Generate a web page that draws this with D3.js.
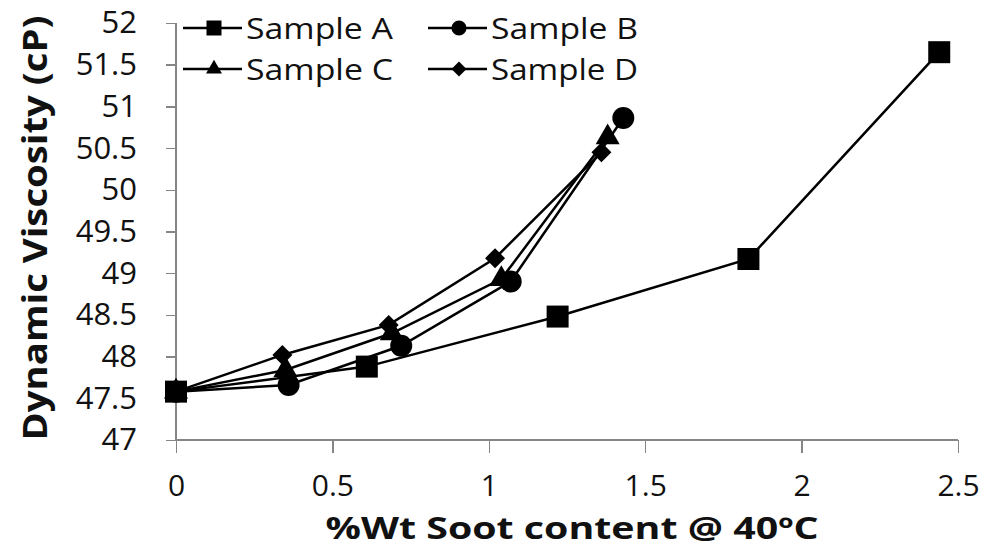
<!DOCTYPE html>
<meta charset="utf-8">
<style>
body { margin: 0; background: #fff; }
text { font-family: "Open Sans", sans-serif; fill: #111; }
.axis path, .axis line { stroke: #868686; stroke-width: 1.5; shape-rendering: crispEdges; }
.axis text { font-size: 31px; }
.x-axis text { font-size: 30px; }
.title { font-size: 34px; font-weight: bold; }
.x-title { font-size: 30px; }
.legend text { font-size: 30px; }
</style>
<svg width="987" height="548"></svg>
<script src="https://cdn.jsdelivr.net/npm/d3@7"></script>
<script>

// values
var seriesNames = ["Sample A", "Sample B", "Sample C", "Sample D"];
var soot = [
  [0, 0.61, 1.22, 1.83, 2.44],
  [0, 0.36, 0.72, 1.07, 1.43],
  [0, 0.35, 0.69, 1.04, 1.38],
  [0, 0.34, 0.68, 1.02, 1.36]
];
var viscosity = [
  [47.58, 47.88, 48.48, 49.17, 51.65],
  [47.58, 47.66, 48.13, 48.90, 50.86],
  [47.58, 47.84, 48.28, 48.93, 50.63],
  [47.58, 48.02, 48.38, 49.18, 50.45]
];
var xTicks = [0, 0.5, 1, 1.5, 2, 2.5];
var yTicks = [47, 47.5, 48, 48.5, 49, 49.5, 50, 50.5, 51, 51.5, 52];

var svg = d3.select("svg");

var x = d3.scaleLinear().domain([0, 2.5]).range([176, 958]);
var y = d3.scaleLinear().domain([47, 52]).range([440, 23]);

// marker shapes; the diamond is a square turned 45 degrees, like Excel's
var symbolTypes = [d3.symbolSquare, d3.symbolCircle, d3.symbolTriangle, d3.symbolSquare];
var rotations = [0, 0, 0, 45];
var symbolSizes = [484, 380, 250, 200];
var legendSizes = [225, 180, 110, 112];

svg.append("g")
    .attr("class", "axis x-axis")
    .attr("transform", "translate(0," + y(47) + ")")
    .call(d3.axisBottom(x).tickValues(xTicks).tickFormat(d3.format("")).tickSize(13).tickPadding(22))
    .call(function(g) { g.select(".domain").attr("d", "M" + x(0) + ",0H" + x(2.5)); });

svg.append("g")
    .attr("class", "axis")
    .attr("transform", "translate(" + x(0) + ",0)")
    .call(d3.axisLeft(y).tickValues(yTicks).tickFormat(d3.format("")).tickSize(10).tickPadding(29))
    .call(function(g) { g.select(".domain").attr("d", "M0," + y(52) + "V" + y(47)); });

svg.selectAll(".axis .tick text").attr("fill", "#1a1a1a");

var line = d3.line()
    .x(function(d) { return x(d[0]); })
    .y(function(d) { return y(d[1]); });

seriesNames.forEach(function(name, i) {
  var pts = d3.zip(soot[i], viscosity[i]);
  var g = svg.append("g");
  g.append("path")
      .attr("d", line(pts))
      .attr("fill", "none")
      .attr("stroke", "#000")
      .attr("stroke-width", 2.5);
  g.selectAll("path.pt").data(pts).enter().append("path")
      .attr("class", "pt")
      .attr("transform", function(d) {
        return "translate(" + x(d[0]) + "," + y(d[1]) + ") rotate(" + rotations[i] + ")";
      })
      .attr("d", d3.symbol().type(symbolTypes[i]).size(symbolSizes[i]))
      .attr("fill", "#000");
});

// legend, two columns
var legend = svg.append("g").attr("class", "legend");
seriesNames.forEach(function(name, i) {
  var lx = 183 + (i % 2) * 245;
  var ly = 28 + Math.floor(i / 2) * 41;
  var g = legend.append("g").attr("transform", "translate(" + lx + "," + ly + ")");
  g.append("line").attr("x1", 0).attr("x2", 59).attr("stroke", "#000").attr("stroke-width", 2.5);
  g.append("path")
      .attr("transform", "translate(31,0) rotate(" + rotations[i] + ")")
      .attr("d", d3.symbol().type(symbolTypes[i]).size(legendSizes[i]));
  g.append("text")
      .attr("x", 63)
      .attr("dy", "0.36em")
      .attr("textLength", 147)
      .attr("lengthAdjust", "spacingAndGlyphs")
      .text(name);
});

svg.append("text")
    .attr("class", "title")
    .attr("text-anchor", "middle")
    .attr("transform", "translate(47,228) rotate(-90)")
    .attr("textLength", 425)
    .attr("lengthAdjust", "spacingAndGlyphs")
    .text("Dynamic Viscosity (cP)");

svg.append("text")
    .attr("class", "title x-title")
    .attr("text-anchor", "middle")
    .attr("x", 572)
    .attr("y", 539)
    .attr("textLength", 493)
    .attr("lengthAdjust", "spacingAndGlyphs")
    .text("%Wt Soot content @ 40ºC");

</script>
